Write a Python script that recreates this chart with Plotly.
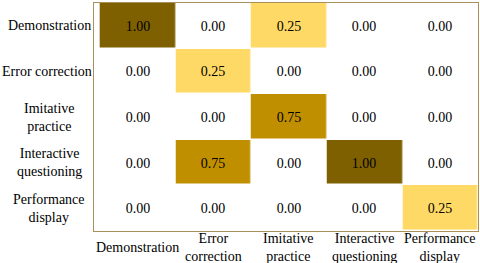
import plotly.graph_objects as go

categories = ["Demonstration", "Error correction", "Imitative practice",
              "Interactive questioning", "Performance display"]
tick_text = ["Demonstration", "Error<br>correction", "Imitative<br>practice",
             "Interactive<br>questioning", "Performance<br>display"]
ytick_text = ["Demonstration", "Error correction", "Imitative<br>practice",
              "Interactive<br>questioning", "Performance<br>display"]
values = [
    [1.00, 0.00, 0.25, 0.00, 0.00],
    [0.00, 0.25, 0.00, 0.00, 0.00],
    [0.00, 0.00, 0.75, 0.00, 0.00],
    [0.00, 0.75, 0.00, 1.00, 0.00],
    [0.00, 0.00, 0.00, 0.00, 0.25],
]

FONT = "Liberation Serif"
BORDER = "#a89058"

fig = go.Figure(go.Heatmap(
    z=values, x=categories, y=categories,
    colorscale=[[0, "#ffffff"], [0.2, "#ffffff"], [0.25, "#ffd966"],
                [0.75, "#bf8f00"], [1, "#7f6000"]],
    zmin=0, zmax=1, showscale=False,
    texttemplate="%{z:.2f}",
    textfont=dict(family=FONT, size=14, color="black"),
    xgap=0.5, ygap=1.5, hoverinfo="skip",
))

annotations = []
for cat, t in zip(categories, tick_text):
    annotations.append(dict(x=cat, xref="x", y=0, yref="paper", yanchor="middle",
                            xanchor="center", yshift=-16, text=t, showarrow=False,
                            align="center", font=dict(family=FONT, size=14, color="black")))
for cat, t in zip(categories, ytick_text):
    annotations.append(dict(x=-0.1159, xref="paper", y=cat, yref="y", xanchor="center",
                            yanchor="middle", text=t, showarrow=False, align="center",
                            xshift=-2.5 if len(t) > 15 and "<br>" not in t else 0,
                            font=dict(family=FONT, size=14, color="black")))

fig.update_layout(
    width=480, height=263,
    margin=dict(l=94, r=2, t=3, b=32, autoexpand=False),
    paper_bgcolor="white", plot_bgcolor="white",
    font=dict(family=FONT, size=14, color="black"),
    annotations=annotations,
    xaxis=dict(showticklabels=False, ticks="", showgrid=False, zeroline=False,
               showline=True, mirror=True, linecolor=BORDER, linewidth=1),
    yaxis=dict(showticklabels=False, ticks="", showgrid=False, zeroline=False,
               autorange="reversed",
               showline=True, mirror=True, linecolor=BORDER, linewidth=1),
)

fig.write_html("out.html", config={"displayModeBar": False},
               post_script="document.body.style.margin='0';")
